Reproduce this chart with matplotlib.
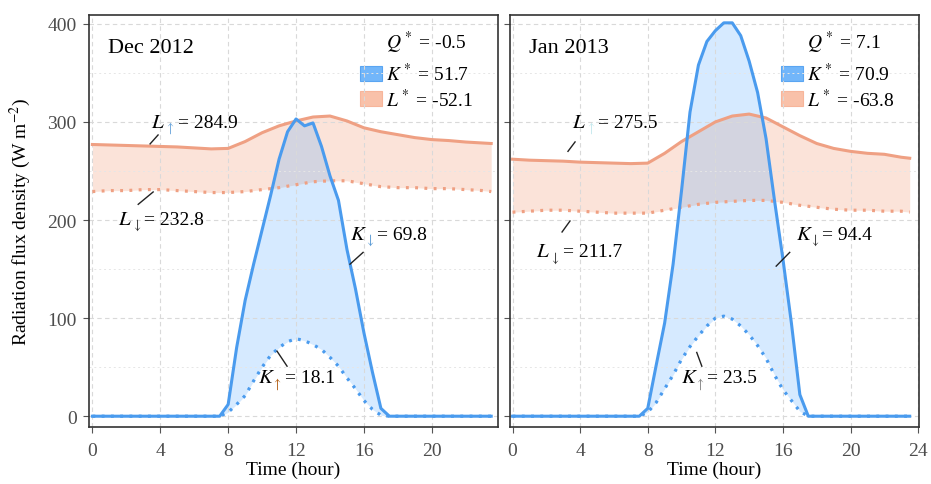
import matplotlib.pyplot as plt
from matplotlib.patches import Rectangle

plt.rcParams['font.family'] = ['Liberation Serif', 'DejaVu Serif']
plt.rcParams['mathtext.fontset'] = 'stix'

# shortwave: half-hourly during daylight, zero at night
k_hours = [0, 7.5, 8, 8.5, 9, 9.5, 10, 10.5, 11, 11.5, 12, 12.5, 13, 13.5,
           14, 14.5, 15, 15.5, 16, 16.5, 17, 17.5, 23.5]
dec_k_down = [0, 0, 12, 70, 118, 155, 190, 225, 262, 290, 303, 296, 299, 275,
              245, 220, 170, 130, 85, 45, 8, 0, 0]
dec_k_up = [0, 0, 4, 12, 21, 36, 50, 62, 70, 76, 79, 77, 73, 68,
            60, 51, 39, 28, 16, 7, 1, 0, 0]
jan_k_down = [0, 0, 8, 52, 95, 155, 230, 310, 358, 382, 393, 401, 401, 388,
              362, 330, 283, 220, 160, 95, 22, 0, 0]
jan_k_up = [0, 0, 4, 14, 28, 42, 58, 71, 82, 92, 100, 102, 99, 92,
            83, 72, 59, 42, 27, 16, 5, 0, 0]

# longwave: hourly
l_hours = list(range(24)) + [23.5]
dec_l_up = [277, 276.5, 276, 275.5, 275, 274.5, 273.5, 272.5, 273, 280, 289, 296,
            301, 305, 306, 301, 294, 290, 287, 284, 282, 281, 279.5, 278.5, 278]
dec_l_down = [229, 230, 230, 231, 231, 230, 229, 228, 228, 229, 231, 233,
              236, 239, 240, 240, 237, 234, 233, 233, 232, 232, 231, 230, 229]
jan_l_up = [262, 261, 260.5, 260, 259, 258.5, 258, 257.5, 258, 268, 280, 290,
            300, 306, 308, 304, 295, 286, 278, 273, 270, 268, 267, 264, 263]
jan_l_down = [208, 209, 210, 210, 209, 208, 207, 207, 207, 210, 213, 216,
              218, 219, 220, 220, 218, 215, 213, 211, 210, 210, 209, 209, 208]

months = ['Dec 2012', 'Jan 2013']
q_star = ['-0.5', '7.1']
k_star = ['51.7', '70.9']
l_star = ['-52.1', '-63.8']

BLUE = '#4a9bee'
ORANGE = '#efa083'


def flux_label(ax, x, y, sym, arrow, acol, value):
    ax.annotate(f'${sym}$', (x, y), fontsize=15, ha='left', va='baseline')
    ax.annotate(f'$\\{arrow}$', (x, y), xytext=(9.5, -3), textcoords='offset points',
                fontsize=10, color=acol, ha='left', va='baseline')
    ax.annotate(f'= {value}', (x, y), xytext=(19, 0), textcoords='offset points',
                fontsize=14, ha='left', va='baseline')


def leader(ax, x0, y0, x1, y1):
    ax.plot([x0, x1], [y0, y1], color='#222222', lw=1.0)


def panel(ax, i, k_down, k_up, l_up, l_down):
    ax.fill_between(l_hours, l_down, l_up, color='#f4a582', alpha=0.3, lw=0)
    ax.fill_between(k_hours, k_up, k_down, color='#3399ff', alpha=0.2, lw=0)
    ax.plot(l_hours, l_up, color=ORANGE, lw=2.2)
    ax.plot(l_hours, l_down, color=ORANGE, lw=2.3, dashes=(0.9, 2.0))
    ax.plot(k_hours, k_down, color=BLUE, lw=2.2)
    ax.plot(k_hours, k_up, color=BLUE, lw=2.3, dashes=(0.9, 2.0))

    ax.set_ylim(-11, 409)
    ax.set_yticks([0, 100, 200, 300, 400])
    ax.set_yticks([50, 150, 250, 350], minor=True)
    ax.grid(True, which='major', color='#d9d9d9', ls=(0, (4, 3)), lw=0.8)
    ax.grid(True, which='minor', axis='y', color='#e6e6e6', ls=(0, (2, 3)), lw=0.7)
    ax.tick_params(which='minor', length=0)
    ax.tick_params(which='major', direction='out', length=4, width=0.8, color='#555555',
                   labelsize=14, labelcolor='#4d4d4d', pad=5)
    ax.tick_params(axis='x', pad=7)
    for s in ax.spines.values():
        s.set_color('#333333')
        s.set_linewidth(1.2)
    ax.set_xlabel('Time (hour)', fontsize=14, labelpad=1)

    ax.text(0.046, 0.91, months[i], transform=ax.transAxes, fontsize=16,
            ha='left', va='baseline')

    # legend drawn by hand
    tx = 0.727
    ax.text(tx, 0.934, f'$Q^*$ = {q_star[i]}', transform=ax.transAxes, fontsize=14,
            ha='left', va='center')
    ax.add_patch(Rectangle((0.663, 0.840), 0.053, 0.036, transform=ax.transAxes,
                           facecolor='#72b6fa', edgecolor='#5aa5f2', lw=0.8))
    ax.text(tx, 0.858, f'$K^*$ = {k_star[i]}', transform=ax.transAxes, fontsize=14,
            ha='left', va='center')
    ax.add_patch(Rectangle((0.663, 0.779), 0.053, 0.036, transform=ax.transAxes,
                           facecolor='#f9c1a9', edgecolor='#f7b59a', lw=0.8))
    ax.text(tx, 0.797, f'$L^*$ = {l_star[i]}', transform=ax.transAxes, fontsize=14,
            ha='left', va='center')


fig = plt.figure(figsize=(9.31, 4.85), dpi=100)
ax1 = fig.add_axes([89 / 931, 57 / 485, 409 / 931, 412 / 485])
ax2 = fig.add_axes([510 / 931, 57 / 485, 409 / 931, 412 / 485])

panel(ax1, 0, dec_k_down, dec_k_up, dec_l_up, dec_l_down)
ax1.set_xlim(-0.2, 23.9)
ax1.set_xticks([0, 4, 8, 12, 16, 20])
flux_label(ax1, 3.46, 295, 'L', 'uparrow', '#6fa8dc', '284.9')
leader(ax1, 3.4, 277.6, 3.87, 286.7)
flux_label(ax1, 1.5, 196, 'L', 'downarrow', '#333333', '232.8')
leader(ax1, 2.7, 216, 3.58, 228.6)
flux_label(ax1, 15.2, 180.6, 'K', 'downarrow', '#5b9bd5', '69.8')
leader(ax1, 15.18, 155, 15.95, 167)
flux_label(ax1, 9.77, 34.7, 'K', 'uparrow', '#b5651d', '18.1')
leader(ax1, 10.88, 66.3, 11.47, 51)

panel(ax2, 1, jan_k_down, jan_k_up, jan_l_up, jan_l_down)
ax2.set_xlim(-0.15, 24.05)
ax2.set_xticks([0, 4, 8, 12, 16, 20, 24])
ax2.tick_params(axis='y', labelleft=False)
flux_label(ax2, 3.52, 295, 'L', 'uparrow', '#c6e9ee', '275.5')
leader(ax2, 3.28, 270, 3.7, 279.6)
flux_label(ax2, 1.4, 163, 'L', 'downarrow', '#333333', '211.7')
leader(ax2, 2.93, 187.8, 3.4, 199)
flux_label(ax2, 16.77, 180.6, 'K', 'downarrow', '#333333', '94.4')
leader(ax2, 15.6, 153, 16.4, 167)
flux_label(ax2, 9.95, 34.7, 'K', 'uparrow', '#888888', '23.5')
leader(ax2, 10.9, 65, 11.2, 51)

fig.text(20 / 931, (57 + 206) / 485, 'Radiation flux density (W m$^{-2}$)',
         rotation=90, fontsize=14, ha='center', va='center')

fig.savefig('out.png', dpi=100)
